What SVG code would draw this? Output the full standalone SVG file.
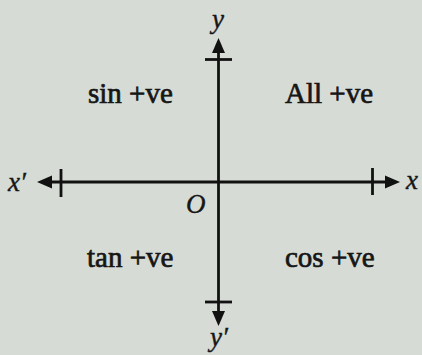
<svg xmlns="http://www.w3.org/2000/svg" width="422" height="355" viewBox="0 0 422 355">
  <style>
    .lbl { font-family: "Liberation Serif", "Times New Roman", serif; font-size: 29px; fill: #161616; stroke: #161616; stroke-width: 0.7; }
    .ax { font-family: "Liberation Serif", "Times New Roman", serif; font-style: italic; font-size: 27px; fill: #161616; stroke: #161616; stroke-width: 0.4; }
    .axis { stroke: #111; stroke-width: 2.8; fill: none; }
    .tick { stroke: #111; stroke-width: 2.8; }
  </style>
  <defs>
    <marker id="ah" markerUnits="userSpaceOnUse" markerWidth="15" markerHeight="15" viewBox="0 0 15 15" refX="1" refY="7.5" orient="auto">
      <path d="M0,1 L15,7.5 L0,14 Z" fill="#111"/>
    </marker>
  </defs>
  <rect width="422" height="355" fill="#d6dbd5"/>

  <g id="connectors">
    <line class="axis" x1="218.5" y1="182" x2="218.5" y2="52" marker-end="url(#ah)"/>
    <line class="axis" x1="218.5" y1="182" x2="218.5" y2="312" marker-end="url(#ah)"/>
    <line class="axis" x1="218.5" y1="182" x2="386" y2="182" marker-end="url(#ah)"/>
    <line class="axis" x1="218.5" y1="182" x2="51" y2="182" marker-end="url(#ah)"/>
    <line class="tick" x1="205" y1="59.5" x2="232" y2="59.5"/>
    <line class="tick" x1="205" y1="302" x2="232" y2="302"/>
    <line class="tick" x1="61" y1="169" x2="61" y2="197"/>
    <line class="tick" x1="372.5" y1="168" x2="372.5" y2="195"/>
  </g>

  <g id="q2"><text class="lbl" x="88" y="103">sin +ve</text></g>
  <g id="q1"><text class="lbl" x="285" y="103">All +ve</text></g>
  <g id="q3"><text class="lbl" x="87" y="267">tan +ve</text></g>
  <g id="q4"><text class="lbl" x="285" y="267">cos +ve</text></g>

  <g id="origin"><text class="ax" x="186" y="213">O</text></g>
  <g id="label-y"><text class="ax" x="212" y="28">y</text></g>
  <g id="label-y-prime"><text class="ax" x="210" y="346">y′</text></g>
  <g id="label-x"><text class="ax" x="406" y="189">x</text></g>
  <g id="label-x-prime"><text class="ax" x="8" y="191">x′</text></g>
</svg>
